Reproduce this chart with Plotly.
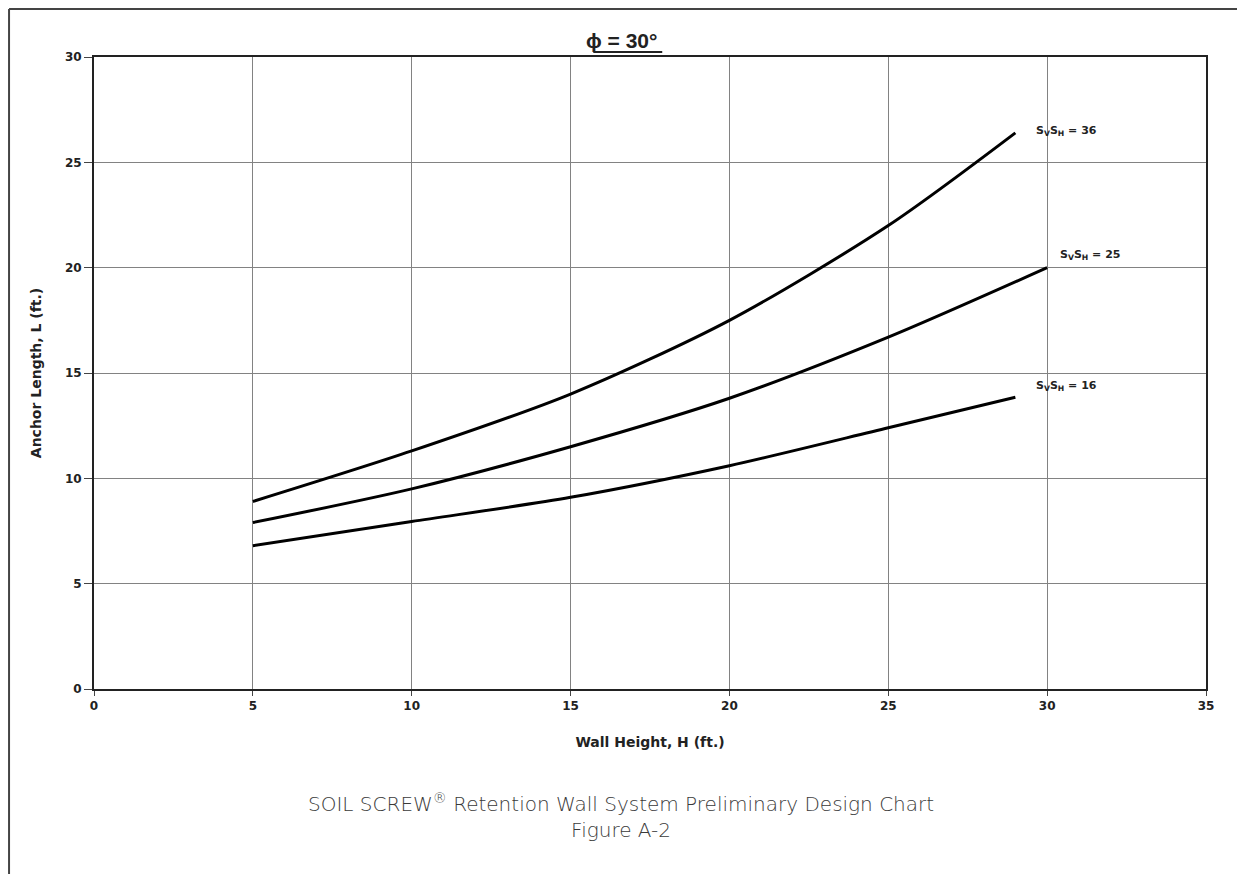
import plotly.graph_objects as go

# wall height (ft.) and anchor length (ft.)
height_36 = [5, 10, 15, 20, 25, 29]
length_36 = [8.9, 11.3, 14.0, 17.5, 22.0, 26.4]

height_25 = [5, 10, 15, 20, 25, 30]
length_25 = [7.9, 9.5, 11.5, 13.8, 16.7, 20.0]

height_16 = [5, 10, 15, 20, 25, 29]
length_16 = [6.8, 7.95, 9.1, 10.6, 12.4, 13.85]

curve_labels = ['S<sub>V</sub>S<sub>H</sub> = 36',
                'S<sub>V</sub>S<sub>H</sub> = 25',
                'S<sub>V</sub>S<sub>H</sub> = 16']
label_pos = [(29.6, 26.5), (30.35, 20.6), (29.6, 14.4)]

x_ticks = [0, 5, 10, 15, 20, 25, 30, 35]
y_ticks = [0, 5, 10, 15, 20, 25, 30]

tick_font = dict(family='DejaVu Sans', size=12, color='#222', weight='bold')
title_font = dict(family='DejaVu Sans', size=14, color='#222', weight='bold')

fig = go.Figure()
for xs, ys in [(height_36, length_36), (height_25, length_25), (height_16, length_16)]:
    fig.add_trace(go.Scatter(
        x=xs, y=ys, mode='lines',
        line=dict(color='black', width=3, shape='spline', smoothing=0.8),
        showlegend=False, hoverinfo='skip'
    ))

for text, (lx, ly) in zip(curve_labels, label_pos):
    fig.add_annotation(
        x=lx, y=ly, xref='x', yref='y', text=text, showarrow=False,
        xanchor='left', yanchor='middle',
        font=dict(family='DejaVu Sans', size=11, color='#222', weight='bold')
    )

fig.add_annotation(
    x=0.474, y=1.004, xref='paper', yref='paper', text='<b>ϕ = 30°</b>',
    showarrow=False, xanchor='center', yanchor='bottom',
    font=dict(family='Arial', size=21, color='#222')
)
# underline under the title
fig.add_shape(type='line', xref='paper', yref='paper',
              x0=0.449, x1=0.511, y0=1.008, y1=1.008,
              line=dict(color='#222', width=2))

fig.add_annotation(
    x=0.474, y=-0.156, xref='paper', yref='paper',
    text='SOIL SCREW<sup>®</sup> Retention Wall System Preliminary Design Chart<br>Figure A-2',
    showarrow=False, xanchor='center', yanchor='top', align='center',
    font=dict(family='DejaVu Sans', size=20, color='#3a3a3a', weight=200)
)

# page frame (left and top edges)
fig.add_shape(type='line', xref='paper', yref='paper',
              x0=-0.0764, x1=-0.0764, y0=1.076, y1=-0.30,
              line=dict(color='#444', width=2))
fig.add_shape(type='line', xref='paper', yref='paper',
              x0=-0.0764, x1=1.03, y0=1.076, y1=1.076,
              line=dict(color='#444', width=2))

fig.update_xaxes(
    range=[0, 35], tickvals=x_ticks, showgrid=True, gridcolor='#828282', gridwidth=1,
    showline=True, linecolor='#222', linewidth=2, mirror=True,
    ticks='outside', ticklen=5, tickcolor='#444', zeroline=False,
    tickfont=tick_font,
    title=dict(text='Wall Height, H (ft.)', standoff=25, font=title_font)
)
fig.update_yaxes(
    range=[0, 30], tickvals=y_ticks, showgrid=True, gridcolor='#828282', gridwidth=1,
    showline=True, linecolor='#222', linewidth=2, mirror=True,
    ticks='outside', ticklen=8, tickcolor='#444', zeroline=False,
    tickfont=tick_font,
    title=dict(text='Anchor Length, L (ft.)', standoff=20, font=title_font)
)

# the page body adds 8px around the figure, so the figure is 16px smaller
fig.update_layout(
    width=1229, height=866,
    margin=dict(l=86, r=31, t=49, b=185),
    plot_bgcolor='white', paper_bgcolor='white',
    showlegend=False
)

fig.write_html("out.html")
